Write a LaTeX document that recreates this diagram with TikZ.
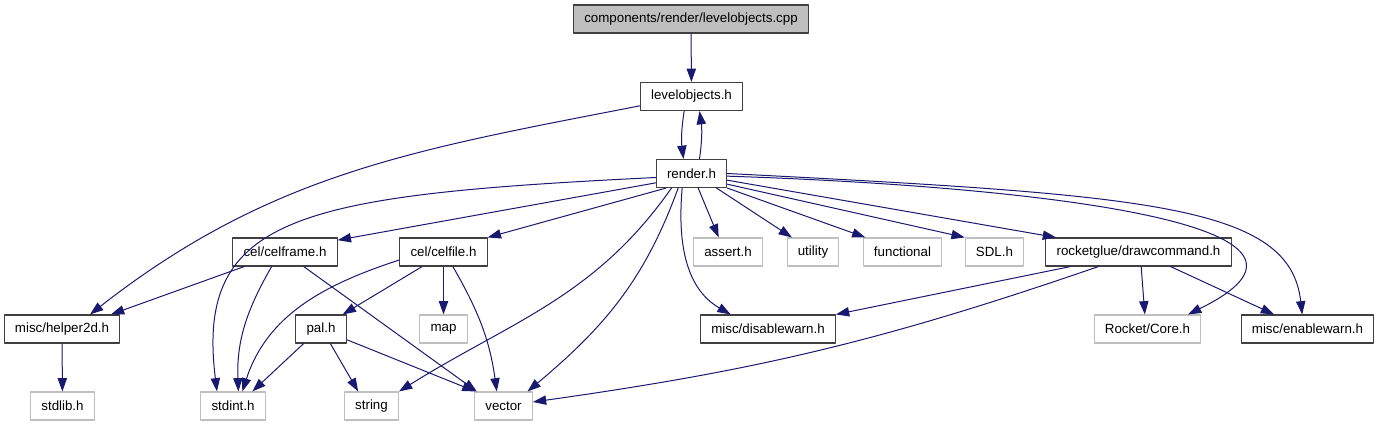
\documentclass[tikz,border=0pt]{standalone}
\usepackage{fontspec}
\setmainfont{Liberation Sans}
\usetikzlibrary{arrows.meta}
\definecolor{edgeblue}{RGB}{25,25,112}
\definecolor{boxgray}{RGB}{191,191,191}

\begin{document}
\begin{tikzpicture}[x=0.75pt, y=-0.75pt, font=\fontsize{10}{12}\selectfont, line join=round, >={Triangle[length=10pt,width=7pt]},
		hdr/.style={draw=black!75, line width=0.8pt, minimum height=21pt, inner xsep=8pt, inner ysep=0pt},
		sys/.style={hdr, draw=boxgray},
		src/.style={hdr, fill=boxgray},
		inc/.style={->, color=edgeblue, line width=0.75pt}]
	\useasboundingbox (0,0) rectangle (1379,427);
	% files
	\node[src] (cpp) at (691,19) {components/render/levelobjects.cpp};
	\node[hdr] (lev) at (691.5,96.5) {levelobjects.h};
	\node[hdr] (render) at (691.5,173.5) {render.h};
	\node[hdr] (celframe) at (285,252) {cel/celframe.h};
	\node[hdr] (celfile) at (443.5,252) {cel/celfile.h};
	\node[sys] (assert) at (728,252) {assert.h};
	\node[sys] (utility) at (813,252) {utility};
	\node[sys] (functional) at (902.5,252) {functional};
	\node[sys] (sdl) at (994.5,252) {SDL.h};
	\node[hdr] (draw) at (1138.5,252) {rocketglue/drawcommand.h};
	\node[hdr] (helper) at (62,329) {misc/helper2d.h};
	\node[hdr] (pal) at (321,329) {pal.h};
	\node[sys] (map) at (443.5,329) {map};
	\node[hdr] (dis) at (768,329) {misc/disablewarn.h};
	\node[sys] (core) at (1147.5,329) {Rocket/Core.h};
	\node[hdr] (enable) at (1307.5,329) {misc/enablewarn.h};
	\node[sys] (stdlib) at (62.5,406) {stdlib.h};
	\node[sys] (stdint) at (233,406) {stdint.h};
	\node[sys] (string) at (371.5,406) {string};
	\node[sys] (vector) at (503.5,406) {vector};
	% includes
	\draw[inc] (cpp) -- (lev);
	\draw[inc] ([xshift=-5.5pt]lev.south) to[bend right=8] ([xshift=-6pt]render.north);
	\draw[inc] ([xshift=6pt]render.north) to[bend right=8] ([xshift=6pt]lev.south);
	\draw[inc] ([yshift=-7pt]lev.west) to[out=191,in=38] ([xshift=21pt]helper.north);
	\draw[inc] ([yshift=-3pt]render.west) .. controls (300,195) and (195,215) .. ([xshift=-12pt]stdint.north);
	\draw[inc] ([yshift=-7pt]render.west) -- ([yshift=-2pt]celframe.north east);
	\draw[inc] ([xshift=-19pt]render.south) -- (celfile.north east);
	\draw[inc] ([xshift=-15pt]render.south) to[out=235,in=32] (string.north east);
	\draw[inc] ([xshift=-10pt]render.south) to[out=250,in=40] ([xshift=-4pt]vector.north east);
	\draw[inc] ([xshift=-7pt]render.south) to[out=265,in=150] ([xshift=-28pt]dis.north);
	\draw[inc] ([xshift=5pt]render.south) -- ([xshift=-7pt]assert.north);
	\draw[inc] ([xshift=-8pt]render.south east) -- ([xshift=4pt]utility.north west);
	\draw[inc] (render.south east) -- ([xshift=2pt]functional.north west);
	\draw[inc] ([yshift=-8pt]render.east) -- (sdl.north west);
	\draw[inc] ([yshift=-5pt]render.east) -- ([xshift=8pt]draw.north west);
	\draw[inc] ([yshift=-2pt]render.east) .. controls (1000,185) and (1380,220) .. ([xshift=-10pt]core.north east);
	\draw[inc] (render.east) .. controls (1150,195) and (1290,205) .. ([xshift=-4pt]enable.north);
	\draw[inc] ([xshift=9pt]celframe.south west) -- ([xshift=-7pt]helper.north east);
	\draw[inc] ([xshift=-10pt]celframe.south) to[out=240,in=92] ([xshift=4pt]stdint.north);
	\draw[inc] ([xshift=14pt]celframe.south) -- ([xshift=2pt]vector.north west);
	\draw[inc] ([yshift=-6pt]celfile.west) to[out=198,in=72] ([xshift=7pt]stdint.north);
	\draw[inc] ([xshift=-16pt]celfile.south) -- ([xshift=-3pt]pal.north east);
	\draw[inc] (celfile) -- (map);
	\draw[inc] ([xshift=7pt]celfile.south) to[out=-60,in=98] ([xshift=-5pt]vector.north);
	\draw[inc] ([xshift=-13pt]pal.south) -- ([xshift=-10pt]stdint.north east);
	\draw[inc] ([xshift=7pt]pal.south) -- ([xshift=-10pt]string.north);
	\draw[inc] ([yshift=-8pt]pal.east) -- ([xshift=1pt]vector.north west);
	\draw[inc] (helper) -- (stdlib);
	\draw[inc] ([xshift=-51pt]draw.south) -- (dis.north east);
	\draw[inc] ([xshift=-30pt]draw.south) to[out=199,in=8] ([yshift=3pt]vector.east);
	\draw[inc] ([xshift=2pt]draw.south) -- ([xshift=-2pt]core.north);
	\draw[inc] ([xshift=24pt]draw.south) -- ([xshift=-25pt]enable.north);
\end{tikzpicture}
\end{document}
